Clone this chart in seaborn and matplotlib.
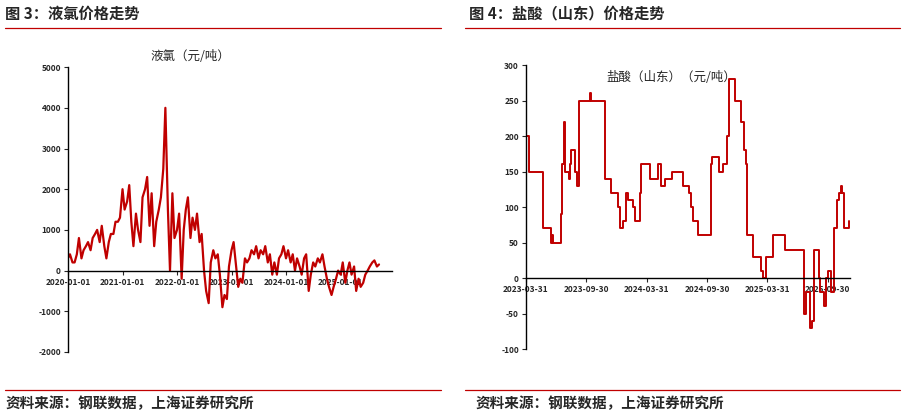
import pandas as pd
import numpy as np
import matplotlib
matplotlib.use("Agg")
import matplotlib.pyplot as plt
import matplotlib.dates as mdates
import seaborn as sns

sns.set_style("white")
plt.rcParams['font.family'] = ['Noto Sans CJK SC', 'DejaVu Sans']
plt.rcParams['axes.unicode_minus'] = False

RED = "#C00000"

# 液氯 semi-monthly values from 2020-01-01
cl_values = [300, 400, 200, 200, 400, 800, 300, 500, 600, 700, 500, 800,
             900, 1000, 700, 1100, 600, 300, 700, 900, 900, 1200, 1200, 1300,
             2000, 1500, 1700, 2100, 1200, 600, 1400, 1000, 700, 1800, 2000, 2300,
             1100, 1900, 600, 1200, 1500, 1800, 2500, 4000, 1500, 0, 1900, 800,
             1000, 1400, -200, 1000, 1500, 1800, 800, 1300, 1000, 1400, 700, 900,
             0, -500, -800, 200, 500, 300, 400, -100, -900, -600, -700, 100,
             500, 700, 100, -400, -200, -300, 300, 200, 300, 500, 400, 600,
             300, 500, 400, 600, 200, 400, -100, 200, -100, 300, 400, 600,
             300, 500, 200, 400, 0, 300, 100, -100, 300, 400, -500, -100,
             200, 100, 300, 200, 400, 100, -200, -400, -600, -400, -200, 0,
             -100, 200, -300, 0, 200, -100, 100, -500, -200, -400, -300, -100,
             0, 100, 200, 250, 100, 150]
cl_dates = pd.date_range("2020-01-01", periods=len(cl_values), freq="SMS")
cl_ticks = ["2020-01-01", "2021-01-01", "2022-01-01", "2023-01-01", "2024-01-01", "2025-01-01"]

# 盐酸（山东） step changes
hcl_dates = ["2023-03-31", "2023-04-10", "2023-05-23", "2023-06-15", "2023-06-19", "2023-06-22",
             "2023-07-15", "2023-07-19", "2023-07-25", "2023-07-29", "2023-08-09", "2023-08-12",
             "2023-08-16", "2023-08-26", "2023-09-03", "2023-09-09", "2023-10-10", "2023-10-13",
             "2023-11-25", "2023-12-15", "2024-01-04", "2024-01-10", "2024-01-20", "2024-01-27",
             "2024-02-04", "2024-02-20", "2024-02-24", "2024-03-11", "2024-03-15", "2024-04-10",
             "2024-05-04", "2024-05-12", "2024-05-24", "2024-06-17", "2024-07-19", "2024-08-06",
             "2024-08-12", "2024-08-17", "2024-09-03", "2024-10-13", "2024-10-16", "2024-11-04",
             "2024-11-18", "2024-11-30", "2024-12-04", "2024-12-22", "2025-01-11", "2025-01-21",
             "2025-01-25", "2025-01-29", "2025-02-16", "2025-03-11", "2025-03-19", "2025-03-27",
             "2025-04-16", "2025-05-23", "2025-07-20", "2025-07-27", "2025-08-07", "2025-08-14",
             "2025-08-21", "2025-09-03", "2025-09-08", "2025-09-20", "2025-09-26", "2025-10-01",
             "2025-10-11", "2025-10-20", "2025-10-28", "2025-11-04", "2025-11-09", "2025-11-13",
             "2025-11-18", "2025-12-04"]
hcl_values = [200, 150, 70, 50, 60, 50,
              90, 160, 220, 150, 140, 160,
              180, 150, 130, 250, 260, 250,
              140, 120, 100, 70, 80, 120,
              110, 100, 80, 120, 160, 140,
              160, 130, 140, 150, 130, 120,
              100, 80, 60, 160, 170, 150,
              160, 200, 280, 250, 220, 180,
              160, 60, 30, 10, 0, 30,
              60, 40, -50, -20, -70, -60,
              40, 0, -20, -40, 0, 10,
              -20, 70, 110, 120, 130, 120,
              70, 80]
hcl_ticks = ["2023-03-31", "2023-09-30", "2024-03-31", "2024-09-30", "2025-03-31", "2025-09-30"]

cl = pd.DataFrame({"date": cl_dates, "value": cl_values})
hcl = pd.DataFrame({"date": pd.to_datetime(hcl_dates), "value": hcl_values})

fig = plt.figure(figsize=(9.05, 4.17), dpi=100)
ax1 = fig.add_axes([0.075, 0.156, 0.358, 0.683])
ax2 = fig.add_axes([0.581, 0.163, 0.358, 0.681])

sns.lineplot(data=cl, x="date", y="value", ax=ax1, color=RED, linewidth=1.6)
sns.lineplot(data=hcl, x="date", y="value", ax=ax2, color=RED, linewidth=1.4,
             drawstyle="steps-post")


def style(ax, ticks, ylim, yticks, xend):
    ax.set_ylim(*ylim)
    ax.set_yticks(yticks)
    ax.set_xlim(pd.Timestamp(ticks[0]), pd.Timestamp(xend))
    ax.set_xticks(pd.to_datetime(ticks))
    ax.set_xticklabels(ticks)
    ax.set_xlabel("")
    ax.set_ylabel("")
    for s in ["top", "right"]:
        ax.spines[s].set_visible(False)
    ax.spines["bottom"].set_position(("data", 0))
    for s in ["left", "bottom"]:
        ax.spines[s].set_color("black")
        ax.spines[s].set_linewidth(1)
    ax.tick_params(axis="both", labelsize=6, length=3, direction="out",
                   bottom=True, left=True, pad=2)
    for lab in ax.get_xticklabels() + ax.get_yticklabels():
        lab.set_fontweight("bold")


style(ax1, cl_ticks, (-2000, 5000), range(-2000, 5001, 1000), "2025-12-10")
style(ax2, hcl_ticks, (-100, 300), range(-100, 301, 50), "2025-12-06")

fig.text(0.21, 0.865, "液氯（元/吨）", fontsize=9, ha="center", va="center")
ax2.text(0.45, 0.955, "盐酸（山东）（元/吨）", fontsize=9, ha="center", va="center",
         transform=ax2.transAxes)

# headers and footers
fig.text(0.006, 0.968, "图 3：液氯价格走势", fontsize=11, fontweight="bold", va="center")
fig.text(0.518, 0.968, "图 4：盐酸（山东）价格走势", fontsize=11, fontweight="bold", va="center")
for x0, x1 in [(0.006, 0.487), (0.514, 0.995)]:
    fig.add_artist(plt.Line2D([x0, x1], [0.933, 0.933], color=RED, linewidth=0.9))
    fig.add_artist(plt.Line2D([x0, x1], [0.065, 0.065], color=RED, linewidth=0.9))
fig.text(0.006, 0.034, "资料来源：钢联数据，上海证券研究所", fontsize=10.5,
         fontweight="bold", style="italic", va="center")
fig.text(0.525, 0.034, "资料来源：钢联数据，上海证券研究所", fontsize=10.5,
         fontweight="bold", style="italic", va="center")

fig.savefig("out.png", dpi=100)
